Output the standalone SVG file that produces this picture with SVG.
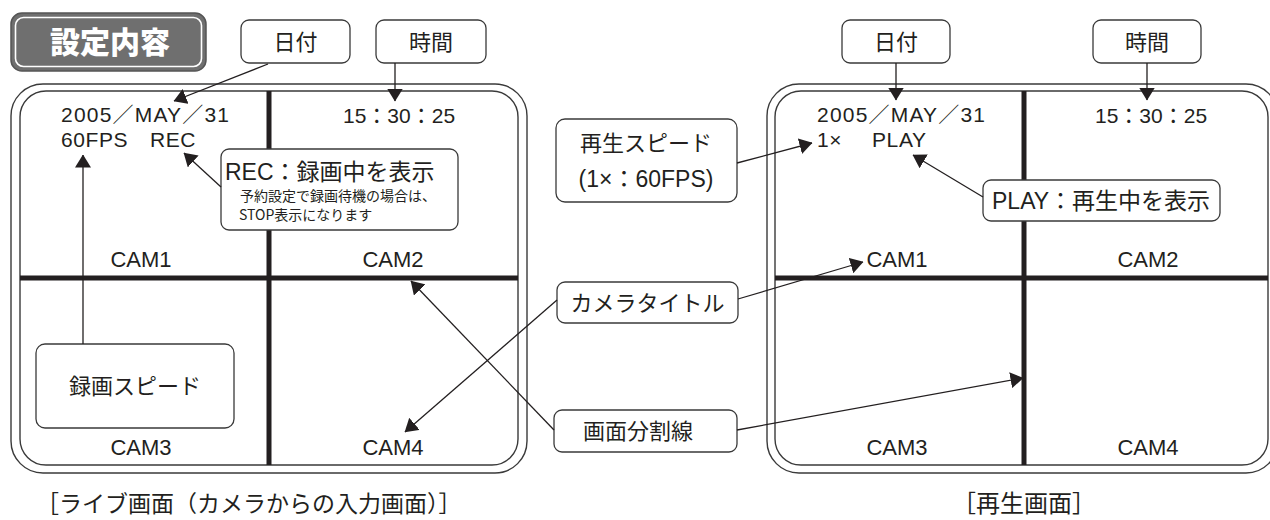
<svg xmlns="http://www.w3.org/2000/svg" width="1270" height="520" viewBox="0 0 1270 520">
<defs>
<marker id="ah" markerUnits="userSpaceOnUse" markerWidth="13" markerHeight="16" viewBox="0 0 13 16" refX="12.5" refY="8" orient="auto"><path d="M0,0 L13,8 L0,16 z" fill="#231f20"/></marker>
</defs>
<style>
.frame{fill:none;stroke:#3a3a3a;stroke-width:1.4}
.div{stroke:#231f20;stroke-width:5}
.box{fill:#fff;stroke:#3a3a3a;stroke-width:1.3}
.t{font-family:"Liberation Sans","Noto Sans CJK JP",sans-serif;fill:#231f20}
.j{font-family:"Noto Sans CJK JP","Liberation Sans",sans-serif;fill:#231f20}
.c{text-anchor:middle}
.s22{font-size:22px}
.d1{font-size:21px;letter-spacing:1.2px}
.d2{font-size:21px;letter-spacing:0.6px}
.con{fill:none;stroke:#231f20;stroke-width:1.3;marker-end:url(#ah)}
</style>
<rect width="1270" height="520" fill="#fff"/>

<g id="title">
<rect x="11" y="13" width="195" height="58" rx="11" fill="#6f6f6f" stroke="#555" stroke-width="1.5"/>
<rect x="15.5" y="17.5" width="186" height="49" rx="8" fill="none" stroke="#fff" stroke-width="1.6"/>
<text x="110" y="53" class="c" font-family="'Noto Sans CJK JP',sans-serif" font-weight="900" font-size="30" fill="#fff">設定内容</text>
</g>

<g id="live-screen">
<rect class="frame" x="11" y="84" width="516" height="389" rx="32"/>
<rect class="frame" x="20" y="91" width="498" height="374" rx="26"/>
<line class="div" x1="269" y1="91" x2="269" y2="465"/>
<line class="div" x1="20" y1="278" x2="518" y2="278"/>
<text class="t d1" x="61" y="122">2005／MAY／31</text>
<text class="t d2" y="147"><tspan x="61">60FPS</tspan><tspan x="150">REC</tspan></text>
<text class="t" x="343" y="123" font-size="21">15：30：25</text>
<text class="t s22 c" x="141" y="267">CAM1</text>
<text class="t s22 c" x="393" y="267">CAM2</text>
<text class="t s22 c" x="141" y="455">CAM3</text>
<text class="t s22 c" x="393" y="455">CAM4</text>
<text class="j" x="36" y="512" font-size="23">［ライブ画面（カメラからの入力画面）］</text>
</g>

<g id="play-screen">
<rect class="frame" x="767" y="84" width="511" height="389" rx="32"/>
<rect class="frame" x="775" y="91" width="493" height="374" rx="26"/>
<line class="div" x1="1024" y1="91" x2="1024" y2="465"/>
<line class="div" x1="775" y1="278" x2="1268" y2="278"/>
<text class="t d1" x="817" y="122">2005／MAY／31</text>
<text class="t d2" y="147"><tspan x="817">1×</tspan><tspan x="872">PLAY</tspan></text>
<text class="t" x="1095" y="123" font-size="21">15：30：25</text>
<text class="t s22 c" x="897" y="267">CAM1</text>
<text class="t s22 c" x="1148" y="267">CAM2</text>
<text class="t s22 c" x="897" y="455">CAM3</text>
<text class="t s22 c" x="1148" y="455">CAM4</text>
<text class="j" x="952" y="512" font-size="24">［再生画面］</text>
</g>

<g id="date-live">
<rect class="box" x="241" y="20" width="109" height="43" rx="8"/>
<text class="j s22 c" x="295.5" y="49.5">日付</text>
</g>
<g id="time-live">
<rect class="box" x="376" y="20" width="110" height="43" rx="8"/>
<text class="j s22 c" x="431" y="49.5">時間</text>
</g>
<g id="rec-note">
<rect class="box" x="221" y="149" width="237" height="81" rx="8"/>
<text class="t" x="225" y="180" font-size="23">REC：録画中を表示</text>
<text class="j" x="240" y="201" font-size="14">予約設定で録画待機の場合は、</text>
<text class="j" x="239" y="220" font-size="14">STOP表示になります</text>
</g>
<g id="rec-speed">
<rect class="box" x="36" y="344" width="198" height="84" rx="9"/>
<text class="j s22 c" x="135" y="394">録画スピード</text>
</g>

<g id="date-play">
<rect class="box" x="842" y="20" width="108" height="43" rx="8"/>
<text class="j s22 c" x="896" y="49.5">日付</text>
</g>
<g id="time-play">
<rect class="box" x="1093" y="20" width="108" height="43" rx="8"/>
<text class="j s22 c" x="1147" y="49.5">時間</text>
</g>
<g id="play-speed">
<rect class="box" x="556" y="119" width="181" height="83" rx="9"/>
<text class="j s22 c" x="646" y="151">再生スピード</text>
<text class="t c" x="646" y="187" font-size="23">(1×：60FPS)</text>
</g>
<g id="play-note">
<rect class="box" x="983" y="180" width="237" height="41" rx="8"/>
<text class="t" x="992" y="208.5" font-size="23">PLAY：再生中を表示</text>
</g>
<g id="camera-title">
<rect class="box" x="557" y="282" width="181" height="41" rx="8"/>
<text class="j s22 c" x="647.5" y="310.5">カメラタイトル</text>
</g>
<g id="split-line">
<rect class="box" x="554" y="410" width="183" height="42" rx="8"/>
<text class="j s22 c" x="638" y="439">画面分割線</text>
</g>

<g id="connectors">
<line class="con" x1="268" y1="64" x2="174" y2="101"/>
<line class="con" x1="395" y1="63" x2="395" y2="101"/>
<line class="con" x1="221" y1="187" x2="184" y2="153"/>
<line class="con" x1="83" y1="344" x2="83" y2="155"/>
<line class="con" x1="557" y1="300" x2="405" y2="432"/>
<line class="con" x1="554" y1="430" x2="411" y2="281"/>
<line class="con" x1="896" y1="63" x2="896" y2="100"/>
<line class="con" x1="1147" y1="63" x2="1147" y2="100"/>
<line class="con" x1="737" y1="163" x2="812" y2="143"/>
<line class="con" x1="983" y1="197" x2="913" y2="155"/>
<line class="con" x1="738" y1="299" x2="863" y2="262"/>
<line class="con" x1="737" y1="430" x2="1023" y2="378"/>
</g>
</svg>
